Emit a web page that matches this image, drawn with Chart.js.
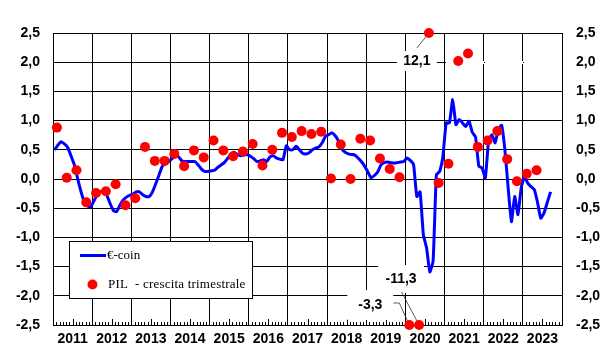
<!DOCTYPE html>
<html>
<head>
<meta charset="utf-8">
<script src="https://cdn.jsdelivr.net/npm/chart.js@4.4.1/dist/chart.umd.min.js"></script>
<style>
  html, body { margin: 0; padding: 0; background: #fff; }
  #wrap { width: 613px; height: 353px; }
</style>
</head>
<body>
<div id="wrap"><canvas id="chart" width="613" height="353"></canvas></div>
<script>
// --- DATA ---
const firstYear = 2011;
const lastYear = 2023;
const yTicks = [-2.5, -2.0, -1.5, -1.0, -0.5, 0.0, 0.5, 1.0, 1.5, 2.0, 2.5];

// €-coin, monthly, Jan 2011 -> Sep 2023
const coin2011 = [0.50, 0.58, 0.64, 0.60, 0.54, 0.40, 0.25, 0.02, -0.20, -0.38, -0.46, -0.48];
const coin2012 = [-0.38, -0.27, -0.22, -0.21, -0.28, -0.42, -0.54, -0.56, -0.45, -0.36, -0.31, -0.28];
const coin2013 = [-0.26, -0.22, -0.22, -0.27, -0.30, -0.30, -0.22, -0.08, 0.07, 0.22, 0.27, 0.30];
const coin2014 = [0.35, 0.40, 0.38, 0.31, 0.30, 0.30, 0.30, 0.30, 0.24, 0.17, 0.13, 0.13];
const coin2015 = [0.14, 0.15, 0.20, 0.24, 0.28, 0.35, 0.42, 0.46, 0.42, 0.40, 0.41, 0.42];
const coin2016 = [0.39, 0.35, 0.30, 0.31, 0.33, 0.30, 0.38, 0.40, 0.36, 0.34, 0.33, 0.57];
const coin2017 = [0.50, 0.50, 0.56, 0.50, 0.44, 0.43, 0.45, 0.50, 0.53, 0.55, 0.62, 0.73];
const coin2018 = [0.76, 0.79, 0.74, 0.65, 0.52, 0.46, 0.43, 0.42, 0.41, 0.36, 0.30, 0.22];
const coin2019 = [0.12, 0.02, 0.06, 0.12, 0.24, 0.28, 0.29, 0.28, 0.27, 0.28, 0.29, 0.30];
const coin2020 = [0.36, 0.32, 0.25, -0.30, -0.22, -0.95, -1.18, -1.59, -1.40, 0.07, 0.13, 0.39];
const coin2021 = [0.96, 0.96, 1.36, 0.93, 1.02, 0.96, 0.90, 0.99, 0.80, 0.72, 0.22, 0.19];
const coin2022 = [0.02, 0.65, 0.76, 0.62, 0.85, 0.92, 0.50, -0.15, -0.73, -0.30, -0.61, -0.15];
const coin2023 = [0.04, -0.07, -0.13, -0.18, -0.40, -0.67, -0.58, -0.40, -0.22];

// PIL - crescita trimestrale, 2011Q1 -> 2023Q2
const gdpValues = [
  0.88, 0.02, 0.15, -0.40,
  -0.24, -0.21, -0.09, -0.45,
  -0.33, 0.55, 0.31, 0.31,
  0.43, 0.22, 0.49, 0.37,
  0.66, 0.49, 0.39, 0.47,
  0.60, 0.23, 0.50, 0.79,
  0.72, 0.82, 0.77, 0.81,
  0.01, 0.59, 0.00, 0.69,
  0.66, 0.35, 0.17, 0.03,
  -3.3, -11.3, 12.1, -0.07,
  0.26, 2.02, 2.15, 0.55,
  0.66, 0.82, 0.34, -0.04,
  0.09, 0.15
];

const coinValues = [].concat(coin2011, coin2012, coin2013, coin2014, coin2015, coin2016,
  coin2017, coin2018, coin2019, coin2020, coin2021, coin2022, coin2023);

const yMin = yTicks[0];
const yMax = yTicks[yTicks.length - 1];
const xMax = (lastYear - firstYear + 1) * 12;
const fmt = v => (Math.round(v * 10) / 10).toFixed(1).replace('.', ',');
const gdpMonth = k => k * 3 + 1.2;
const clampY = v => Math.max(yMin, Math.min(yMax, v));

const FONT = '"Liberation Sans", Arial, sans-serif';
const SERIF = '"Liberation Serif", "Times New Roman", serif';

// labels for values outside the axis range (offsets from the clipped point)
const outLabels = [
  { k: 36, dx: -39, dy: -20, box: [46, 30], path: [[-16, -22], [-10, -22], [0, 0]] },
  { k: 37, dx: -18, dy: -46, box: [46, 28], path: [[-17.5, -33], [0, 0]] },
  { k: 38, dx: -12, dy: 28, box: [40, 20], path: [[-12, 15], [0, 0]], coverRight: 2.0 }
];

// --- PLUGINS ---
const minorTicks = {
  id: 'minorTicks',
  beforeDatasetsDraw(chart) {
    const { ctx, chartArea, scales: { x } } = chart;
    ctx.save();
    ctx.strokeStyle = '#000';
    ctx.lineWidth = 1;
    ctx.beginPath();
    for (let m = 1; m < xMax; m++) {
      if (m % 12 === 0) continue;
      const px = Math.round(x.getPixelForValue(m)) + 0.5;
      const len = m % 12 === 6 ? 6 : 3;
      ctx.moveTo(px, chartArea.bottom);
      ctx.lineTo(px, chartArea.bottom - len);
    }
    ctx.stroke();
    ctx.restore();
  }
};

const outlierLabels = {
  id: 'outlierLabels',
  beforeDatasetsDraw(chart) {
    const { ctx, scales: { x, y } } = chart;
    ctx.save();
    ctx.font = 'bold 14px ' + FONT;
    ctx.textAlign = 'center';
    ctx.textBaseline = 'middle';
    outLabels.forEach(lab => {
      const v = gdpValues[lab.k];
      const px = x.getPixelForValue(gdpMonth(lab.k));
      const py = y.getPixelForValue(clampY(v));
      const tx = px + lab.dx, ty = py + lab.dy;
      ctx.fillStyle = '#fff';
      ctx.fillRect(tx - lab.box[0] / 2, ty - lab.box[1] / 2, lab.box[0], lab.box[1]);
      // the label's white box also hides the rest of that gridline (as in the original)
      if (lab.coverRight !== undefined) {
        const gy = Math.round(y.getPixelForValue(lab.coverRight));
        for (let m = Math.ceil(gdpMonth(lab.k) / 12) * 12; m < xMax; m += 12) {
          const a = Math.round(x.getPixelForValue(m)) + 1;
          const b = Math.round(x.getPixelForValue(m + 12));
          ctx.fillRect(a, gy - 1, b - a, 3);
        }
      }
      ctx.fillStyle = '#000';
      ctx.fillText(fmt(v), tx, ty);
      ctx.strokeStyle = '#333';
      ctx.lineWidth = 0.8;
      ctx.beginPath();
      lab.path.forEach(([ox, oy], j) => {
        if (j === 0) ctx.moveTo(px + ox, py + oy); else ctx.lineTo(px + ox, py + oy);
      });
      ctx.stroke();
    });
    ctx.restore();
  }
};

const boxLegend = {
  id: 'boxLegend',
  afterDraw(chart) {
    const { ctx, chartArea } = chart;
    const left = chartArea.left + 16, top = chartArea.top + 208;
    const w = 183, h = 57;
    ctx.save();
    ctx.fillStyle = '#fff';
    ctx.fillRect(left, top, w, h);
    ctx.strokeStyle = '#000';
    ctx.lineWidth = 1;
    ctx.strokeRect(Math.round(left) + 0.5, Math.round(top) + 0.5, w, h);

    const ds = chart.data.datasets;
    // €-coin
    ctx.strokeStyle = ds[0].borderColor;
    ctx.lineWidth = 3;
    ctx.beginPath();
    ctx.moveTo(left + 11, top + 14.5);
    ctx.lineTo(left + 37, top + 14.5);
    ctx.stroke();
    ctx.fillStyle = '#000';
    ctx.font = '13px ' + SERIF;
    ctx.textBaseline = 'middle';
    ctx.fillText(ds[0].label, left + 38, top + 15);
    // PIL
    ctx.fillStyle = ds[1].backgroundColor;
    ctx.beginPath();
    ctx.arc(left + 23.5, top + 43.5, 5, 0, Math.PI * 2);
    ctx.fill();
    ctx.fillStyle = '#000';
    ctx.letterSpacing = '0.2px';
    ctx.fillText(ds[1].label, left + 39, top + 44);
    ctx.restore();
  }
};

// --- CHART ---
const tickFont = { family: FONT, size: 14, weight: 'bold' };

new Chart(document.getElementById('chart'), {
  type: 'line',
  data: {
    datasets: [
      {
        label: '€-coin',
        data: coinValues.map((v, i) => ({ x: i + 0.5, y: v })),
        borderColor: '#0000FF',
        borderWidth: 3,
        pointRadius: 0,
        tension: 0.15,
        order: 2
      },
      {
        label: 'PIL  - crescita trimestrale',
        data: gdpValues.map((v, k) => ({ x: gdpMonth(k), y: clampY(v) })),
        showLine: false,
        backgroundColor: '#FF0000',
        borderWidth: 0,
        pointRadius: 5,
        pointHoverRadius: 5,
        clip: false,
        order: 1
      }
    ]
  },
  options: {
    responsive: false,
    animation: false,
    layout: { padding: { top: 33, left: 0, right: 0, bottom: 0 } },
    plugins: { legend: { display: false }, tooltip: { enabled: false } },
    scales: {
      x: {
        type: 'linear',
        min: 0,
        max: xMax,
        afterBuildTicks: scale => {
          scale.ticks = [];
          for (let m = 0; m <= xMax; m += 6) scale.ticks.push({ value: m });
        },
        afterFit: scale => { scale.height = 28; },
        grid: {
          color: ctx => (ctx.tick && ctx.tick.value % 12 === 0 ? '#000' : 'rgba(0,0,0,0)'),
          lineWidth: 1,
          drawTicks: false
        },
        border: { display: true, color: '#000', width: 1 },
        ticks: {
          autoSkip: false,
          maxRotation: 0,
          padding: 6,
          color: '#000',
          font: tickFont,
          callback: v => (v % 12 === 6 ? String(firstYear + (v - 6) / 12) : '')
        }
      },
      y: {
        position: 'left',
        min: yMin,
        max: yMax,
        afterBuildTicks: scale => { scale.ticks = yTicks.map(v => ({ value: v })); },
        afterFit: scale => { scale.width = 53; },
        grid: { color: '#000', lineWidth: 1, drawTicks: false },
        border: { display: true, color: '#000', width: 1 },
        ticks: { padding: 13, color: '#000', font: tickFont, callback: v => fmt(v) }
      },
      y2: {
        position: 'right',
        min: yMin,
        max: yMax,
        afterBuildTicks: scale => { scale.ticks = yTicks.map(v => ({ value: v })); },
        afterFit: scale => { scale.width = 51; },
        grid: { display: false, drawTicks: false },
        border: { display: true, color: '#000', width: 1 },
        ticks: { padding: 14, color: '#000', font: tickFont, callback: v => fmt(v) }
      }
    }
  },
  plugins: [minorTicks, outlierLabels, boxLegend]
});
</script>
</body>
</html>
